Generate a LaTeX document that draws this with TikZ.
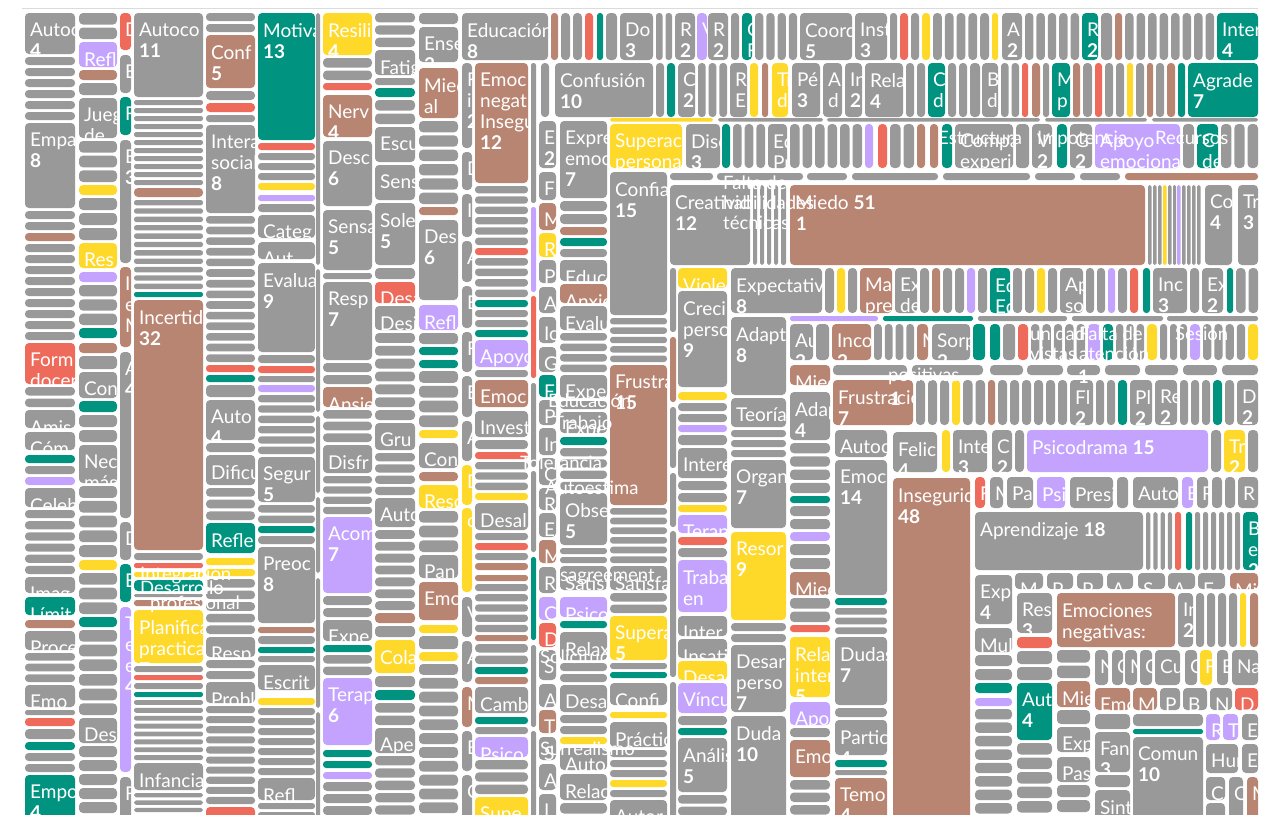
\documentclass[tikz,border=0pt]{standalone}
\usepackage{fontspec}
\setmainfont{Lato}
\definecolor{gr}{HTML}{999999}
\definecolor{br}{HTML}{B98573}
\definecolor{te}{HTML}{009480}
\definecolor{ye}{HTML}{FFD929}
\definecolor{re}{HTML}{EE6A5A}
\definecolor{pu}{HTML}{C4A3FF}
\tikzset{lab/.style={anchor=north west,inner sep=0pt,text=white,align=left,font=\fontsize{19}{21}\selectfont},
 ovl/.style={anchor=north west,inner sep=0pt,text=white,align=left,font=\fontsize{18.5}{20}\selectfont}}
\newcommand\nb[1]{\\\textbf{#1}}
\newcommand\cellbox[6]{%
  \pgfmathsetmacro\rr{min(4,0.45*min(#3-#1,#4-#2))}%
  \fill[fill=#5,rounded corners=\rr pt] (#1,#2) rectangle (#3,#4);%
  \if\relax\detokenize\expandafter{#6}\relax\else
    \begin{scope}\clip (#1,#2) rectangle (#3,#4);
      \node[lab] at (#1+5,#2+10) {#6};
    \end{scope}%
  \fi}
\newcommand\fillH[5]{%
  \pgfmathtruncatemacro\nn{floor((#4-#3)/#5+0.4)}%
  \ifnum\nn>0
    \pgfmathsetmacro\qq{(#4-#3)/\nn}%
    \foreach \i in {1,...,\nn}{%
      \pgfmathsetmacro\ba{#3+(\i-1)*\qq}%
      \pgfmathsetmacro\bb{\ba+\qq-3}%
      \cellbox{#1}{\ba}{#2}{\bb}{gr}{}}%
  \fi}
\newcommand\fillV[5]{%
  \pgfmathtruncatemacro\nn{floor((#4-#3)/#5+0.4)}%
  \ifnum\nn>0
    \pgfmathsetmacro\qq{(#4-#3)/\nn}%
    \foreach \i in {1,...,\nn}{%
      \pgfmathsetmacro\ba{#3+(\i-1)*\qq}%
      \pgfmathsetmacro\bb{\ba+\qq-3}%
      \cellbox{\ba}{#1}{\bb}{#2}{gr}{}}%
  \fi}
% vertical column: x0 x1 top pitch list(y0/y1/colour/label)
\newcommand\vcol[5]{%
  \xdef\pend{#3}%
  \foreach \ya/\yb/\cc/\lab in {#5}{%
    \fillH{#1}{#2}{\pend}{\ya}{#4}%
    \cellbox{#1}{\ya}{#2}{\yb}{\cc}{\lab}%
    \pgfmathsetmacro\tmp{\yb+3}\xdef\pend{\tmp}}%
  \fillH{#1}{#2}{\pend}{830}{#4}}
% horizontal row: y0 y1 left right pitch list(x0/x1/colour/label)
\newcommand\hrow[6]{%
  \xdef\pend{#3}%
  \foreach \xa/\xb/\cc/\lab in {#6}{%
    \fillV{#1}{#2}{\pend}{\xa}{#5}%
    \cellbox{\xa}{#1}{\xb}{#2}{\cc}{\lab}%
    \pgfmathsetmacro\tmp{\xb+3}\xdef\pend{\tmp}}%
  \fillV{#1}{#2}{\pend}{#4+3}{#5}}
\begin{document}
\begin{tikzpicture}[x=1pt,y=-1pt]
\useasboundingbox (0,0) rectangle (1271,814);
\clip (0,0) rectangle (1271,814);
\draw[color=black!14,line width=1pt] (22,8) -- (1258,8);
% ---------- left columns ----------
\vcol{25}{75}{13}{11}{13/54/gr/Autoc\nb{4}, 123/208/gr/Empa\nb{8}, 233/241/br/, 343/384/re/Form\\docen, 410/428/gr/Amis, 432/450/gr/Cóm, 455/463/te/, 477/485/pu/, 488/507/gr/Celeb, 577/593/gr/Imag, 597/615/te/Límit, 620/628/br/, 631/650/gr/Proce, 685/707/gr/Emo, 718/726/re/, 742/750/te/, 775/830/te/Empo\nb{4}}
\vcol{79}{117}{13}{14}{42/67/pu/Refl, 70/80/br/, 98/138/gr/Jueg\\de, 185/195/ye/, 243/268/ye/Res, 272/282/pu/, 328/338/te/, 343/353/br/, 372/398/gr/Con, 401/412/te/, 445/483/gr/Nec\\más, 560/570/ye/, 617/627/te/, 718/743/gr/Des}
\vcol{120}{131}{13}{100}{13/50/re/D, 55/93/gr/E, 97/135/te/F, 140/263/gr/E\nb{3}, 267/347/br/I\\e\\M, 352/518/gr/A\nb{4}, 522/560/gr/D, 564/602/te/E, 607/772/pu/T\\e\\e\nb{4}, 777/830/gr/F}
\vcol{134}{203}{13}{8}{13/97/gr/Autoco\nb{11}, 188/197/br/, 292/297/te/, 300/550/br/Incertid\nb{32}, 563/568/re/, 572/577/ye/, 580/591/te/, 600/606/br/, 610/663/ye/Planifica\\practica\nb{7}, 675/680/re/, 692/697/te/, 763/790/gr/Infancia}
\vcol{206}{255}{13}{10.5}{35/88/br/Conf\nb{5}, 103/112/re/, 125/213/gr/Intera\\social\nb{8}, 365/372/re/, 375/382/te/, 400/440/gr/Auto\nb{4}, 455/485/gr/Dificu, 523/553/te/Refle, 558/565/ye/, 569/576/ye/, 637/657/gr/Resp, 682/703/gr/Probl, 807/830/re/}
\vcol{258}{315}{13}{10}{13/140/te/Motiva\nb{13}, 143/150/re/, 183/190/ye/, 195/201/pu/, 215/238/gr/Categ, 242/259/gr/Aut, 263/352/gr/Evalua\nb{9}, 366/373/re/, 385/392/pu/, 457/502/gr/Segur\nb{5}, 526/533/te/, 547/623/gr/Preoc\nb{8}, 627/633/br/, 647/653/te/, 665/690/gr/Escrit, 698/705/ye/, 778/800/gr/Refl}
\vcol{316}{320}{13}{100}{13/265/gr/, 269/412/gr/, 416/493/gr/, 497/573/gr/, 578/708/gr/, 712/830/gr/}
\vcol{323}{372}{13}{11}{13/55/ye/Resili\nb{4}, 83/90/re/, 95/137/br/Nerv\nb{4}, 141/206/gr/Desc\nb{6}, 210/270/gr/Sensa\nb{5}, 282/360/gr/Resp\nb{7}, 387/407/br/Ansie, 445/473/gr/Disfr, 517/593/pu/Acom\nb{7}, 620/641/gr/Expe, 645/652/te/, 678/745/pu/Terap\nb{6}, 750/757/te/, 761/768/te/, 772/779/pu/}
\vcol{375}{415}{13}{12.5}{50/75/gr/Fatig, 88/97/te/, 127/162/gr/Escu, 165/200/gr/Sens, 203/265/gr/Sole\nb{5}, 282/303/re/Desa, 306/330/gr/Desi, 423/450/gr/Gru, 498/527/gr/Auto, 613/623/br/, 640/673/ye/Cola, 690/700/te/, 728/753/gr/Ape}
\vcol{419}{458}{13}{13.5}{27/62/gr/Ense\nb{3}, 68/118/br/Mied\\al, 207/215/br/, 220/300/gr/Des\nb{6}, 305/330/pu/Refl, 347/355/te/, 360/368/te/, 430/438/ye/, 443/468/gr/Con, 472/481/br/, 485/508/ye/Reso, 555/578/gr/Pan, 582/620/br/Emo, 625/633/ye/, 652/661/ye/}
\cellbox{462}{13}{548}{60}{gr}{Educación\nb{8}}
\vcol{462}{472}{63}{100}{63/148/gr/F\\i\nb{2}, 152/190/gr/D, 194/237/gr/I, 241/282/gr/A, 286/328/gr/E, 332/372/gr/F, 376/417/gr/E, 421/461/gr/A, 465/505/ye/D, 508/592/ye/c, 597/637/gr/V, 641/682/gr/A, 687/727/br/M, 731/771/gr/B, 775/830/gr/C}
\vcol{475}{528}{63}{10.5}{63/183/br/Emoc\\negat\\Insegu\nb{12}, 248/255/re/, 300/307/te/, 330/337/te/, 340/367/pu/Apoyo, 380/407/br/Emoc, 411/437/gr/Invest, 452/459/re/, 493/500/ye/, 503/530/gr/Desal, 543/550/re/, 563/570/br/, 575/581/br/, 635/641/br/, 667/674/te/, 677/684/br/, 687/713/gr/Camb, 717/724/te/, 737/757/pu/Psico, 797/830/ye/Supe}
\vcol{531}{536}{63}{100}{63/203/gr/, 207/292/pu/, 296/378/re/, 383/467/gr/, 471/552/gr/, 557/640/te/, 645/727/gr/, 731/830/gr/}
\cellbox{541}{63}{549}{117}{gr}{}
\vcol{539}{556}{121}{100}{121/168/gr/E\nb{2}, 172/200/gr/F, 203/230/br/M, 233/257/ye/R, 260/283/gr/P, 287/313/gr/A, 317/343/gr/Ic, 347/372/gr/G, 375/397/te/F, 400/425/gr/P, 428/455/gr/In, 458/485/gr/C, 488/510/gr/R, 513/537/gr/E, 540/563/br/M, 567/593/gr/R, 597/620/pu/C, 623/647/re/D, 650/680/gr/S, 684/707/gr/A, 710/733/br/T, 737/760/gr/S, 764/790/gr/A, 794/830/gr/I}
\vcol{560}{607}{121}{11}{121/198/gr/Expre\\emoc\nb{7}, 227/235/br/, 238/246/te/, 260/281/gr/Educ, 284/303/br/Anxie, 306/330/gr/Evalu, 375/398/gr/Expe, 412/433/gr/Expe, 437/445/te/, 493/545/gr/Obse\nb{5}, 566/590/gr/Satisfa, 597/617/pu/Psico, 621/628/te/, 632/660/gr/Relax, 685/712/gr/Desa, 737/744/ye/, 748/770/gr/Auto, 774/800/gr/Relac}
\vcol{610}{667}{172}{10}{172/315/gr/Confia\nb{15}, 365/505/br/Frustra\nb{15}, 566/590/gr/Satisfa, 616/660/ye/Supera\nb{5}, 672/678/te/, 683/705/gr/Confi, 712/718/ye/, 722/747/gr/Práctic, 780/787/ye/, 800/830/gr/Autor}
\vcol{670}{676}{268}{100}{268/332/gr/, 337/402/br/, 407/468/gr/, 473/527/gr/, 531/677/gr/, 682/830/gr/}
\vcol{678}{727}{268}{10}{268/288/ye/Viole, 291/387/gr/Creci\\perso\nb{9}, 392/400/ye/, 425/432/pu/, 448/478/gr/Interé, 505/512/ye/, 515/533/pu/Terap, 537/545/re/, 560/612/pu/Traba\\en, 616/636/gr/Inter, 639/658/gr/Insati, 661/680/ye/Desa, 683/713/pu/Víncu, 728/735/te/, 738/792/gr/Análisis\nb{5}}
\vcol{731}{786}{317}{10}{317/395/gr/Adapt\nb{8}, 398/427/gr/Teoría, 460/528/gr/Organ\nb{7}, 532/620/ye/Resor\nb{9}, 645/712/gr/Desar\\perso\nb{7}, 716/830/gr/Duda\nb{10}}
\vcol{790}{830}{365}{12.5}{365/385/br/Miec, 392/440/gr/Adap\nb{4}, 496/503/te/, 532/541/pu/, 572/595/br/Miec, 625/632/re/, 637/697/ye/Rela\\inter\nb{5}, 702/725/pu/Apo, 740/777/br/Emo}
\vcol{835}{887}{430}{10}{430/457/gr/Autoc, 460/595/gr/Emoc\nb{14}, 598/605/te/, 637/705/gr/Dudas\nb{7}, 720/755/gr/Partic\nb{4}, 760/767/te/, 778/830/br/Temo\nb{4}}
\cellbox{833}{380}{913}{425}{br}{Frustración\nb{7}}
\cellbox{893}{432}{937}{472}{gr}{Felic\nb{4}}
\cellbox{893}{478}{970}{830}{br}{Insegurid\nb{48}}
% ---------- upper right rows ----------
\hrow{13}{60}{551}{1258}{11.5}{551/558/br/, 585/593/re/, 597/603/te/, 620/653/gr/Do\nb{3}, 675/695/gr/R\nb{2}, 697/707/pu/V, 708/728/gr/R\nb{2}, 742/752/te/C\\F, 800/852/gr/Coord\nb{5}, 855/887/gr/Inst\nb{3}, 900/908/re/, 922/930/ye/, 992/998/ye/, 1002/1022/gr/A\nb{2}, 1082/1098/te/R\nb{2}, 1115/1122/br/, 1217/1258/te/Inter\nb{4}}
\hrow{63}{117}{555}{1258}{11}{555/653/gr/Confusión\nb{10}, 667/675/te/, 678/695/gr/C\nb{2}, 730/747/gr/R\\E, 750/758/ye/, 762/768/br/, 772/788/ye/Tr\\d, 792/820/gr/Pé\nb{3}, 823/842/gr/A\\d, 845/862/gr/In\nb{2}, 865/903/gr/Rela\nb{4}, 928/945/te/C\\d, 970/980/gr/, 982/998/gr/B\\d, 1022/1028/re/, 1032/1040/br/, 1052/1070/te/M\\p, 1073/1080/br/, 1095/1102/re/, 1127/1133/ye/, 1147/1153/br/, 1167/1175/br/, 1178/1185/te/, 1188/1258/te/Agrade\nb{7}}
\hrow{118}{121.5}{610}{1258}{1000}{610/713/ye/, 718/823/gr/, 827/1040/gr/, 1045/1147/gr/, 1152/1258/gr/}
\hrow{124}{168}{610}{1258}{12}{610/682/ye/Superac\\personal, 686/720/gr/Disc\nb{3}, 722/730/te/, 768/787/gr/Ed\\Pr, 865/873/pu/, 878/887/re/, 917/925/br/, 930/938/br/, 942/952/te/, 955/1013/gr/Compa\\experi, 1032/1052/gr/V\nb{2}, 1057/1067/te/, 1070/1092/gr/G\nb{2}, 1095/1180/pu/Apoyo\\emociona, 1197/1218/te/C\\de}
\hrow{173}{180}{670}{1258}{1000}{670/713/gr/, 717/803/gr/, 807/847/gr/, 852/938/gr/, 943/1030/gr/, 1035/1075/gr/, 1080/1120/gr/, 1125/1258/br/}
\hrow{185}{265}{670}{1258}{1000}{670/750/gr/Creatividad\nb{12}, 753/757/gr/, 760/764/gr/, 767/771/gr/, 774/778/gr/, 781/786/gr/, 790/1145/br/Miedo \textbf{51}, 1148/1151.5/gr/, 1153/1156.5/gr/, 1158/1161.5/gr/, 1163/1166.5/ye/, 1168/1171.5/gr/, 1173/1176/gr/, 1177/1180.5/pu/, 1182/1185.5/gr/, 1187/1190.5/gr/, 1192/1195.5/gr/, 1197/1200.5/gr/, 1205/1232/gr/Co\nb{4}, 1238/1258/gr/Tr\nb{3}}
\hrow{268}{313}{731}{1258}{11.5}{731/822/gr/Expectativ\nb{8}, 837/845/ye/, 860/892/br/Ma\\pre, 895/917/gr/Ex\\de, 932/940/br/, 967/975/pu/, 990/1010/te/Ed\\Ed, 1037/1045/ye/, 1060/1083/gr/Ap\\so, 1108/1115/pu/, 1130/1138/re/, 1143/1150/te/, 1153/1187/gr/Inc\nb{3}, 1202/1223/gr/Ex\nb{2}, 1227/1233/te/}
\hrow{316}{321}{790}{1258}{1000}{790/878/pu/, 883/973/te/, 978/1067/gr/, 1072/1163/gr/, 1167/1258/gr/}
\hrow{324}{360}{790}{1258}{11}{790/813/gr/Au\nb{2}, 832/871/br/Inco\nb{2}, 917/928/br/M, 932/970/gr/Sorp\nb{2}, 973/985/te/, 990/1000/te/, 1018/1028/re/, 1088/1100/pu/, 1103/1113/te/, 1147/1157/ye/, 1190/1200/pu/, 1248/1258/ye/}
\hrow{365}{375}{833}{1258}{1000}{833/907/gr/, 912/983/gr/, 990/1023/gr/, 1027/1063/gr/, 1067/1100/gr/, 1105/1140/gr/, 1145/1178/gr/, 1183/1217/gr/, 1222/1258/gr/}
\hrow{380}{425}{916}{1258}{11}{952/960/ye/, 988/995/br/, 1070/1093/gr/Fl\nb{2}, 1118/1127/te/, 1130/1152/gr/Pl\nb{2}, 1155/1177/gr/Re\nb{2}, 1213/1222/te/, 1237/1258/gr/D\nb{2}}
\hrow{430}{472}{940}{1258}{11}{942/950/ye/, 953/987/gr/Inte\nb{3}, 992/1012/gr/C\nb{2}, 1027/1208/pu/Psicodrama \textbf{15}, 1224/1245/ye/Tr\nb{2}}
\hrow{477}{508}{975}{1258}{1000}{975/985/re/F, 990/1003/gr/M, 1007/1033/gr/Pa, 1037/1065/pu/Psi, 1070/1113/gr/Presi, 1117/1128/gr/, 1133/1178/gr/Auto, 1182/1193/pu/B, 1197/1208/gr/R, 1212/1222/gr/, 1225/1235/gr/, 1238/1258/gr/R}
\hrow{512}{570}{975}{1258}{8}{975/1143/gr/Aprendizaje \textbf{18}, 1175/1181/re/, 1186/1192/te/, 1243/1258/te/B\\e\nb{2}}
% ---------- lower right ----------
\vcol{975}{1012}{575}{13.5}{575/624/gr/Exp\nb{4}, 628/652/gr/Mul, 683/693/te/, 698/706/pu/}
\hrow{573}{589}{1015}{1258}{1000}{1015/1043/gr/M, 1047/1073/gr/P, 1077/1103/gr/P, 1107/1133/gr/A, 1138/1165/gr/S, 1168/1195/gr/A, 1198/1225/gr/E, 1230/1258/br/Mi}
\vcol{1017}{1052}{593}{14}{593/633/gr/Res\nb{3}, 637/648/re/, 683/740/te/Aut\nb{4}}
\cellbox{1057}{593}{1175}{647}{br}{Emociones\\negativas:}
\hrow{593}{647}{1178}{1258}{11}{1178/1193/gr/In\nb{2}, 1240/1246/ye/, 1250/1258/br/}
\vcol{1057}{1090}{650}{14}{681/707/br/Mie, 727/752/gr/Exp, 757/782/gr/Pas}
\hrow{650}{685}{1095}{1258}{1000}{1095/1108/gr/N, 1112/1123/gr/C, 1125/1137/gr/M, 1140/1152/gr/C, 1155/1180/gr/Cu, 1185/1197/gr/C, 1200/1212/ye/F, 1217/1228/gr/B, 1232/1258/gr/Na}
\hrow{688}{710}{1095}{1258}{1000}{1095/1130/br/Emo, 1133/1157/br/M, 1160/1180/gr/P, 1183/1207/gr/B, 1210/1232/gr/N, 1235/1258/re/D}
\vcol{1095}{1130}{714}{14}{732/772/gr/Fan\nb{3}, 790/830/gr/Sint}
\vcol{1133}{1203}{714}{100}{714/726/gr/, 729/734/te/, 737/830/gr/Comun\nb{10}}
\cellbox{1206}{714}{1220}{740}{pu}{R}
\cellbox{1223}{714}{1238}{740}{pu}{T}
\cellbox{1242}{714}{1258}{740}{gr}{E}
\cellbox{1206}{744}{1238}{773}{gr}{Hur}
\cellbox{1242}{744}{1258}{773}{gr}{E}
\cellbox{1206}{777}{1225}{800}{gr}{C}
\cellbox{1206}{803}{1225}{830}{gr}{}
\cellbox{1229}{777}{1243}{830}{gr}{C}
\cellbox{1247}{777}{1258}{830}{br}{M}
% ---------- overflowing labels ----------
\node[ovl] at (723,176) {Falta de\\habilidades\\técnicas};
\node[ovl] at (796,217) {\textbf{1}};
\node[ovl] at (938,131) {Estructura};
\node[ovl] at (1037,131) {Impotencia};
\node[ovl] at (1155,131) {Recursos};
\node[ovl] at (1030,327) {unidad\\vistas};
\node[ovl] at (1079,327) {Falta de\\atención};
\node[ovl] at (1175,327) {Sesión};
\node[ovl] at (888,368) {positivas};
\node[ovl] at (1078,370) {\textbf{1}};
\node[ovl] at (890,392) {\textbf{1}};
\node[ovl] at (548,394) {Educación};
\node[ovl] at (553,416) {Trabajo};
\node[ovl] at (520,456) {Tolerancia};
\node[ovl] at (545,481) {Autoestima};
\node[ovl] at (560,569) {sagreement};
\node[ovl] at (540,650) {Solicitud};
\node[ovl] at (540,742) {Surrealismo};
\node[ovl] at (140,567) {Integración};
\node[ovl] at (140,581) {Desarrollo};
\node[ovl] at (150,596) {profesional};
\end{tikzpicture}
\end{document}
